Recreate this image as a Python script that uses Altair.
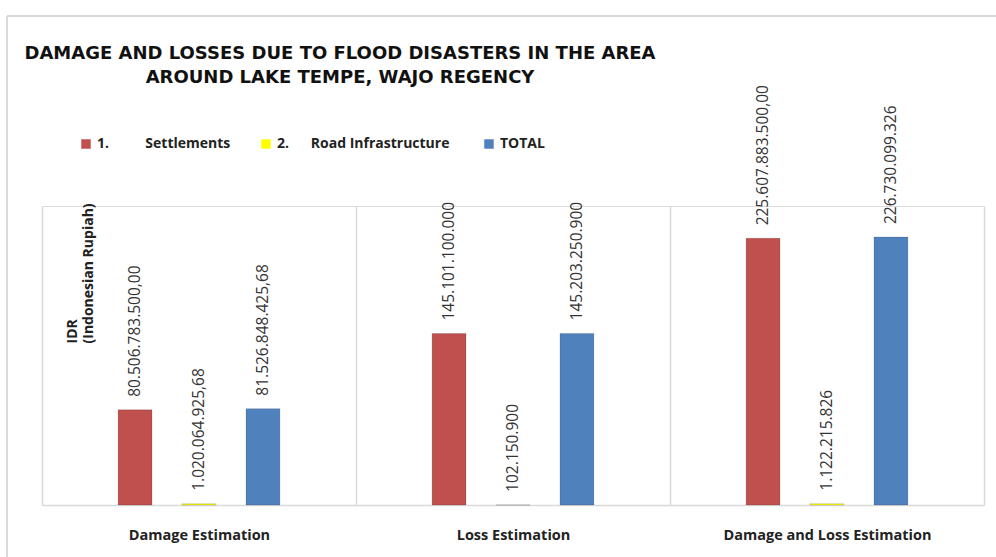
import altair as alt
import pandas as pd

categories = ["Damage Estimation", "Loss Estimation", "Damage and Loss Estimation"]
series = ["Settlements", "Road Infrastructure", "TOTAL"]
NB = "\u00a0"
ZW = "\u200b"
legend_labels = ["1." + NB * 10 + "Settlements" + NB * 5 + ZW,
                 "2." + NB * 6 + "Road Infrastructure" + NB * 6 + ZW,
                 "TOTAL"]
settlements = [80506783500.00, 145101100000, 225607883500.00]
road = [1020064925.68, 102150900, 1122215826]
total = [81526848425.68, 145203250900, 226730099326]
settlements_txt = ["80.506.783.500,00", "145.101.100.000", "225.607.883.500,00"]
road_txt = ["1.020.064.925,68", "102.150.900", "1.122.215.826"]
total_txt = ["81.526.848.425,68", "145.203.250.900", "226.730.099.326"]
colors = ["#C0504D", "#FFFF00", "#4F81BD"]

rows = []
for i, c in enumerate(categories):
    for s, vals, txts in zip(series, [settlements, road, total], [settlements_txt, road_txt, total_txt]):
        rows.append({"category": c, "series": s, "value": vals[i], "label": txts[i]})
df = pd.DataFrame(rows)

label_expr = ("datum.label == 'Settlements' ? '" + legend_labels[0] + "' : datum.label == 'Road Infrastructure' ? '"
              + legend_labels[1] + "' : '" + legend_labels[2] + "'")

x = alt.X("category:N", sort=categories, title=None,
          scale=alt.Scale(paddingInner=0, paddingOuter=0),
          axis=alt.Axis(labelAngle=0, ticks=False, grid=True, tickBand="extent",
                        gridColor="#d9d9d9", gridWidth=1.5, domainColor="#d9d9d9", domainWidth=1.5,
                        labelFont="Open Sans", labelFontWeight="bold", labelFontSize=14.5,
                        labelColor="#222222", labelPadding=23, labelLimit=400))
xo = alt.XOffset("series:N",
                 scale=alt.Scale(domain=["_l"] + series + ["_r"], paddingInner=0.47, paddingOuter=0.19))
y = alt.Y("value:Q", scale=alt.Scale(domain=[0, 253e9]),
          axis=alt.Axis(title=["IDR", "(Indonesian Rupiah)"], labels=False, ticks=False, grid=False,
                        domain=False, titleAngle=270, titleAlign="left", titleBaseline="middle",
                        titleX=30, titleY=137, titleFont="Open Sans", titleFontSize=14,
                        titleFontWeight="bold", titleColor="#222222", titleLineHeight=16))

bars = alt.Chart(df).mark_bar(strokeWidth=1, stroke="#00000025").encode(
    x=x, xOffset=xo, y=y,
    color=alt.Color("series:N", sort=series,
                    scale=alt.Scale(domain=series, range=colors),
                    legend=alt.Legend(title=None, orient="none", legendX=37, legendY=-69,
                                      direction="horizontal", symbolType="square", symbolSize=90,
                                      symbolStrokeWidth=0, labelFont="Open Sans", labelFontSize=14,
                                      labelFontWeight="bold",
                                      labelColor="#222222", labelExpr=label_expr,
                                      columnPadding=10, labelLimit=400)),
)

texts = alt.Chart(df).mark_text(angle=270, align="left", baseline="middle", dx=13,
                                font="Open Sans", fontSize=15.5, color="#333333").encode(
    x=x, xOffset=xo, y=y, text="label:N")

frame_top = alt.Chart(df).mark_rule(color="#d9d9d9", strokeWidth=2).encode(
    x=alt.value(-35), x2=alt.value(960), y=alt.value(-190))
frame_left = alt.Chart(df).mark_rule(color="#d9d9d9", strokeWidth=2).encode(
    x=alt.value(-35), y=alt.value(-190), y2=alt.value(360))

chart = alt.layer(frame_top, frame_left, bars, texts).properties(
    width=942, height=299,
    title=alt.Title(["DAMAGE AND LOSSES DUE TO  FLOOD DISASTERS IN THE AREA",
                     "AROUND LAKE TEMPE, WAJO REGENCY"],
                    anchor="start", align="center", dx=334, font="DejaVu Sans", fontSize=18,
                    fontWeight="bold", color="#111111", lineHeight=24, offset=-90,
                    baseline="bottom"),
    autosize=alt.AutoSizeParams(type="none"),
    padding={"left": 42, "top": 206, "right": 12, "bottom": 52},
).configure_view(stroke=None).configure(background="white")

chart.save("out.html", embed_options={"renderer": "svg", "actions": False})
